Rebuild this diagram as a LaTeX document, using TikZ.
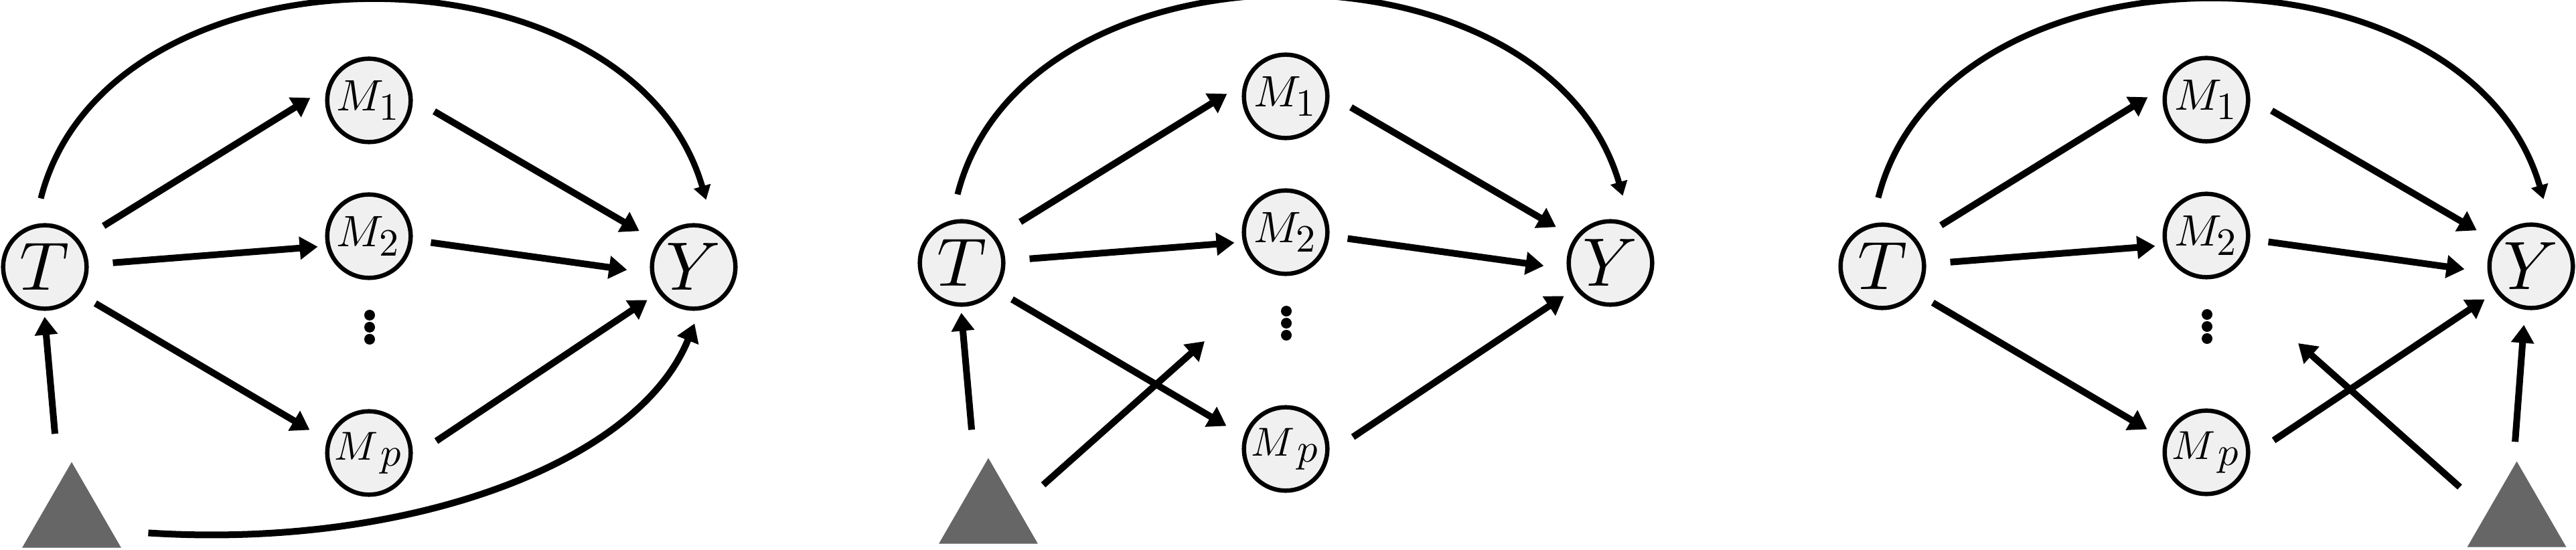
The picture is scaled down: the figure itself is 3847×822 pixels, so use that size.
\documentclass[tikz,border=0pt]{standalone}
\usepackage{graphicx}
\usetikzlibrary{arrows.meta,shapes.geometric}
\definecolor{nodefill}{RGB}{240,240,240}
\definecolor{trigray}{RGB}{102,102,102}
\tikzset{
  var/.style={circle,draw=black,line width=0.065cm,fill=nodefill,minimum size=1.245cm,inner sep=0pt,outer sep=0.0325cm},
  confounder/.style={regular polygon,regular polygon sides=3,fill=trigray,draw=none,minimum size=1.708cm,inner sep=0pt,outer sep=0pt},
  edge/.style={line width=0.1cm,-{Triangle[length=0.27cm,width=0.33cm]}},
  arcedge/.style={line width=0.09cm,-{Triangle[length=0.21cm,width=0.25cm]}},
}
\newcommand{\panelcore}[1]{%
  \node[var] (#1T) at (67,399) {\scalebox{2.91}{$T$}};
  \node[var] (#1M1) at (551,150) {\scalebox{1.87}{$M_{\scalebox{0.88}{$\textstyle 1$}}$}};
  \node[var] (#1M2) at (551,353) {\scalebox{1.87}{$M_{\scalebox{0.88}{$\textstyle 2$}}$}};
  \node[var] (#1Mp) at (551,677) {\scalebox{1.72}{$M_{\textstyle\mkern3mu p}$}};
  \node[var] (#1Y) at (1036,399) {\scalebox{2.91}{$Y$}};
  \fill (552,471) circle[radius=8] (552,489) circle[radius=8] (552,507) circle[radius=8];
  \draw[edge, shorten <=0.416cm, shorten >=0.293cm] (#1T.37) -- (#1M1.163);
  \draw[edge, shorten <=0.362cm, shorten >=0.126cm] (#1T.3) -- (#1M2.193);
  \draw[edge, shorten <=0.276cm, shorten >=0.300cm] (#1T.322) -- (#1Mp.163);
  \draw[edge, shorten <=0.371cm, shorten >=0.319cm] (#1M1.2) -- (#1Y.145);
  \draw[edge, shorten <=0.275cm, shorten >=0.349cm] (#1M2.355) -- (#1Y.188);
  \draw[edge, shorten <=0.424cm, shorten >=0.196cm] (#1Mp.355) -- (#1Y.216);
  \draw[arcedge, shorten <=0.401cm, shorten >=0.442cm] (#1T.104) .. controls (160.8,-98.2) and (939.5,-98.2) .. (#1Y.62);
}
\begin{document}
\begin{tikzpicture}[x=0.01cm,y=-0.01cm]
  \useasboundingbox (0,0) rectangle (3847,822);
  % panel 1
  \begin{scope}
    \panelcore{A}
    \node[confounder] (Atri) at (107,776) {};
    \draw[edge, shorten <=0.744cm, shorten >=0.09cm] (Atri.109) -- (AT.269);
    \draw[edge, shorten <=0.554cm, shorten >=0.211cm] (Atri.344) .. controls (608,821) and (953,693) .. (AY.278);
  \end{scope}
  % panel 2
  \begin{scope}[shift={(1369,-6)}]
    \panelcore{B}
    \node[confounder] (Btri) at (107,776) {};
    \coordinate (Bfree) at (430,516);
    \draw[edge, shorten <=0.744cm, shorten >=0.09cm] (Btri.109) -- (BT.269);
    \draw[edge, shorten <=0.52cm] (Btri.14) -- (Bfree);
  \end{scope}
  % panel 3
  \begin{scope}[shift={(2744,-1)}]
    \panelcore{C}
    \node[confounder] (Ctri) at (1014.5,776) {};
    \coordinate (Cfree) at (688,514);
    \draw[edge, shorten <=0.386cm, shorten >=0.227cm] (Ctri.94) -- (CY.262);
    \draw[edge, shorten <=0.556cm] (Ctri.167) -- (Cfree);
  \end{scope}
\end{tikzpicture}
\end{document}
